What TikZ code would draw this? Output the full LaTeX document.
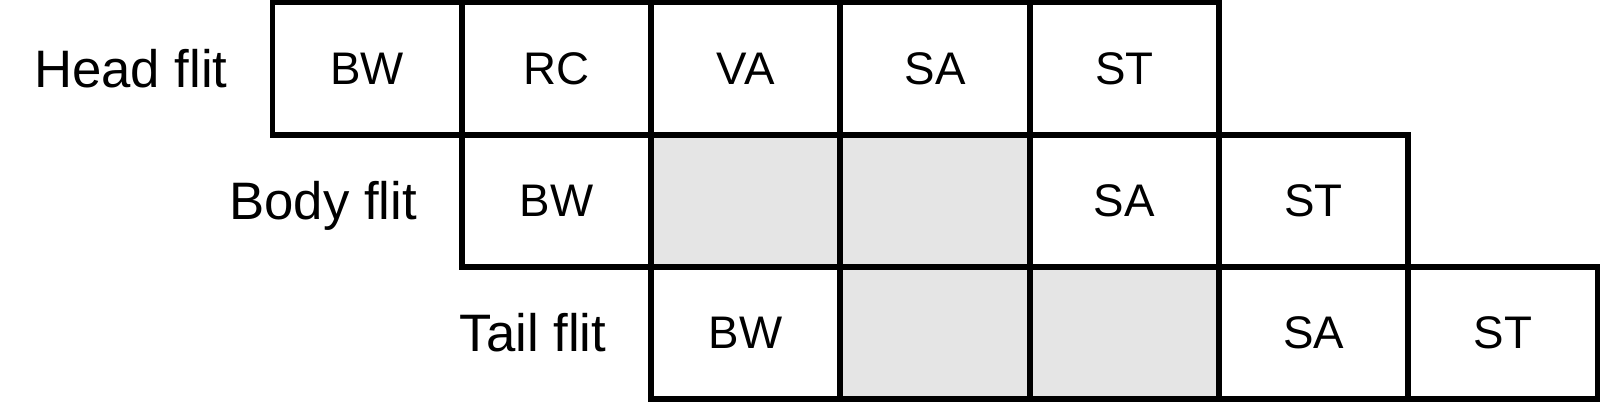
\documentclass[tikz,border=0pt]{standalone}
\usepackage{fontspec}
\setmainfont{Liberation Sans}
\begin{document}
\begin{tikzpicture}[x=3.786cm, y=-2.646cm,
        stage/.style={draw, line width=3.4pt, minimum width=3.786cm, minimum height=2.646cm, inner sep=0pt, font=\fontsize{26}{31}\selectfont},
        idle/.style={stage, fill=black!10},
        flit/.style={anchor=base east, inner sep=0pt, font=\fontsize{30}{36}\selectfont}]
        \useasboundingbox (-1.4395,-0.0189) rectangle (7.0127,3.0197);

        \node[flit] (head) at (-0.235, 0.64) {Head flit};
        \node[stage] (h1) at (0.5,0.5) {BW};
        \node[stage] (h2) at (1.5,0.5) {RC};
        \node[stage] (h3) at (2.5,0.5) {VA};
        \node[stage] (h4) at (3.5,0.5) {SA};
        \node[stage] (h5) at (4.5,0.5) {ST};

        \node[flit] (body) at (0.765, 1.64) {Body flit};
        \node[stage] (b1) at (1.5,1.5) {BW};
        \node[idle] (b2) at (2.5,1.5) {};
        \node[idle] (b3) at (3.5,1.5) {};
        \node[stage] (b4) at (4.5,1.5) {SA};
        \node[stage] (b5) at (5.5,1.5) {ST};

        \node[flit] (tail) at (1.765, 2.64) {Tail flit};
        \node[stage] (t1) at (2.5,2.5) {BW};
        \node[idle] (t2) at (3.5,2.5) {};
        \node[idle] (t3) at (4.5,2.5) {};
        \node[stage] (t4) at (5.5,2.5) {SA};
        \node[stage] (t5) at (6.5,2.5) {ST};

    \end{tikzpicture}
\end{document}
